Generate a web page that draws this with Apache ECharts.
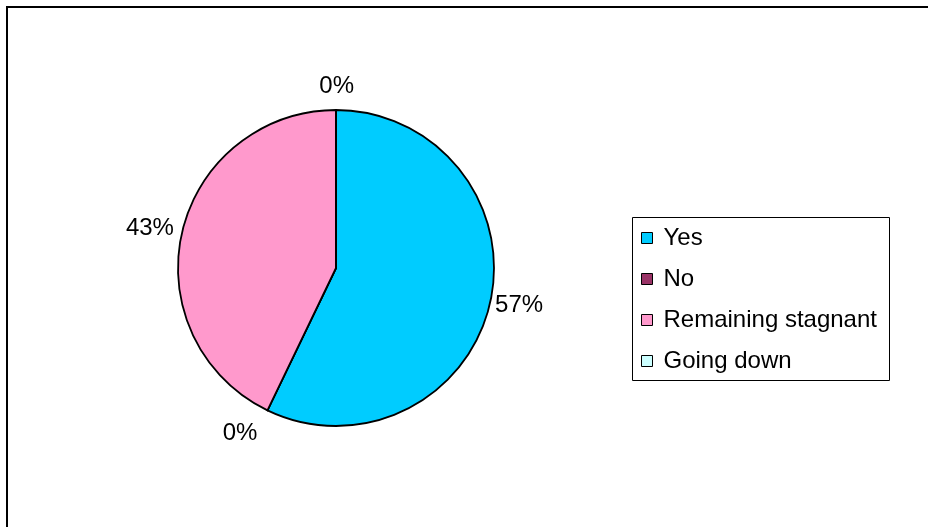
<!DOCTYPE html>
<html>
<head>
<meta charset="utf-8">
<style>
  html, body { margin: 0; padding: 0; background: #fff; }
  #chart { width: 928px; height: 527px; }
</style>
<script src="https://cdn.jsdelivr.net/npm/echarts@6/dist/echarts.min.js"></script>
</head>
<body>
<div id="chart"></div>
<script>
// Survey answers (counts) and their slice colours
const categories = ['Yes', 'No', 'Remaining stagnant', 'Going down'];
const counts = [4, 0, 3, 0];
const sliceColors = ['#00CCFF', '#993366', '#FF99CC', '#CCFFFF'];

// Small per-label nudges (px) applied after the library places each outside label
const labelNudge = [[0, 2], [-5, 23], [-3, -4], [23, -24]];

const FONT = '"Liberation Sans", Arial, sans-serif';

const chart = echarts.init(document.getElementById('chart'), null, { renderer: 'canvas' });

const pieData = categories.map((name, i) => ({
  name: name,
  value: counts[i],
  itemStyle: { color: sliceColors[i] }
}));

chart.setOption({
  backgroundColor: '#ffffff',
  animation: false,
  graphic: [
    {
      type: 'rect',
      shape: { x: 7, y: 7, width: 1000, height: 1000 },
      style: { fill: 'none', stroke: '#000', lineWidth: 2 },
      silent: true
    },
    {
      type: 'rect',
      shape: { x: 632.5, y: 217.5, width: 257, height: 163 },
      style: { fill: 'none', stroke: '#000', lineWidth: 1 },
      silent: true
    }
  ],
  legend: {
    orient: 'vertical',
    left: 641,
    top: 226,
    padding: 0,
    itemWidth: 11,
    itemHeight: 11,
    itemGap: 17,
    icon: 'rect',
    itemStyle: { borderColor: '#000', borderWidth: 1 },
    textStyle: {
      fontFamily: FONT,
      fontSize: 24,
      lineHeight: 24,
      color: '#000',
      padding: [0, 0, 0, 6]
    },
    data: categories
  },
  series: [{
    type: 'pie',
    center: [336, 268],
    radius: 158,
    startAngle: 90,
    clockwise: true,
    avoidLabelOverlap: false,
    itemStyle: { borderColor: '#000', borderWidth: 1.8 },
    emphasis: { disabled: true },
    label: {
      show: true,
      position: 'outside',
      formatter: p => Math.round(p.percent) + '%',
      fontFamily: FONT,
      fontSize: 24,
      color: '#000'
    },
    labelLine: { show: false, length: 0, length2: 0 },
    labelLayout: params => ({
      dx: labelNudge[params.dataIndex][0],
      dy: labelNudge[params.dataIndex][1]
    }),
    data: pieData
  }]
});
</script>
</body>
</html>
